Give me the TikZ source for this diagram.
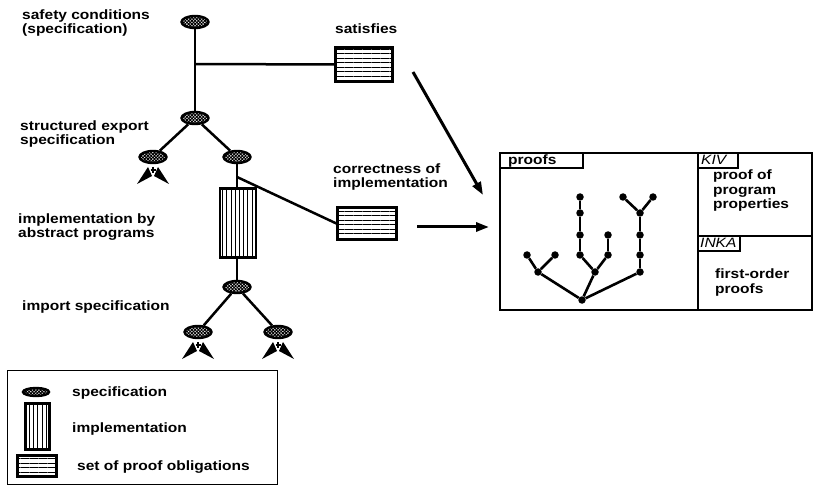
\documentclass[tikz,border=0pt]{standalone}
\usepackage{fontspec}
\newfontfamily\lab{Liberation Sans}[FakeStretch=1.15]
\usetikzlibrary{shapes.geometric,patterns.meta,arrows.meta}
\tikzset{
  lbl/.style={font=\lab\bfseries\fontsize{13.5}{14.5}\selectfont, align=left, inner sep=0pt, anchor=base west},
  tablbl/.style={font=\lab\itshape\fontsize{13.5}{14.5}\selectfont, inner sep=0pt, anchor=base west},
  spec/.style={ellipse, draw, line width=2.4pt, minimum width=27pt, minimum height=12pt, inner sep=0pt,
    pattern={Hatch[angle=45,distance=2.3pt,line width=1pt]}},
  impl/.style={rectangle, draw, line width=2.2pt, inner sep=0pt,
    pattern={Lines[angle=90,distance=4.2pt,line width=1pt]}},
  obl/.style={rectangle, draw, line width=2.2pt, inner sep=0pt,
    pattern={Lines[angle=0,distance=4.5pt,line width=1pt]}},
  edge/.style={line width=2.5pt},
  bigarrow/.style={line width=3pt, -{Triangle[length=13pt,width=9pt]}},
  dot/.style={circle, fill, inner sep=0pt, minimum size=7.5pt},
  treeedge/.style={line width=2.6pt},
  imp/.pic={
    \fill (-16,27) -- (-5,10) -- (-1,19) -- cycle;
    \fill (16,27) -- (5,10) -- (1,19) -- cycle;
    \draw[line width=1.2pt] (-2.5,13) -- (2.5,13) (0,10) -- (0,16);
  }
}
\begin{document}
\begin{tikzpicture}[x=1pt,y=-1pt]
\useasboundingbox (0,0) rectangle (816,486);

% left structure
\node[spec] (s1) at (195,22) {};
\node[spec] (s2) at (195,118) {};
\node[spec] (s3) at (153,157) {};
\node[spec] (s4) at (237,157) {};
\node[impl, minimum width=36pt, minimum height=69pt] (im) at (238,223) {};
\node[spec] (s5) at (237,287) {};
\node[spec] (s6) at (198,332) {};
\node[spec] (s7) at (278,332) {};
\node[obl, minimum width=57pt, minimum height=34pt] (sat) at (364,64.5) {};
\node[obl, minimum width=59pt, minimum height=32pt] (cor) at (367,223.5) {};

\coordinate (j1) at (195,64);
\coordinate (j2) at (237,177);
\draw[edge] (s1) -- (s2);
\draw[edge] (j1) -- (sat.west);
\draw[edge] (s2) -- (s3);
\draw[edge] (s2) -- (s4);
\draw[edge] (s4) -- (s4 |- im.north);
\draw[edge] (j2) -- (cor.west);
\draw[edge] (s5 |- im.south) -- (s5);
\draw[edge] (s5) -- (s6);
\draw[edge] (s5) -- (s7);

\pic at (s3) {imp};
\pic at (s6) {imp};
\pic at (s7) {imp};

% labels (anchor = baseline of the last line)
\node[lbl] (tsafe) at (22,34) {safety conditions\\(specification)};
\node[lbl] (tsat) at (335,34) {satisfies};
\node[lbl] (tstruct) at (20,145) {structured export\\specification};
\node[lbl] (timpl) at (18,238) {implementation by\\abstract programs};
\node[lbl] (timport) at (22,310) {import specification};
\node[lbl] (tcorr) at (333,188) {correctness of\\implementation};

% big arrows
\coordinate (a1s) at (413,72);
\coordinate (a1e) at (483,195);
\coordinate (a2s) at (417,227);
\coordinate (a2e) at (489,227);
\draw[bigarrow] (a1s) -- (a1e);
\draw[bigarrow] (a2s) -- (a2e);

% right panel
\node[draw, line width=2pt, minimum width=312pt, minimum height=157pt, inner sep=0pt] (panel) at (656,231.5) {};
\draw[line width=2.6pt] (698,153) -- (698,310);
\draw[line width=2.4pt] (698,236) -- (812,236);
\draw[line width=1.6pt] (500,168) -- (583,168) -- (583,153);
\draw[line width=1.6pt] (698,168) -- (738,168) -- (738,153);
\draw[line width=1.6pt] (698,251) -- (740,251) -- (740,236);
\node[lbl] (tproofs) at (508,165) {proofs};
\node[tablbl] (tkiv) at (701,165) {KIV};
\node[tablbl] (tinka) at (700,248) {INKA};
\node[lbl] (tppp) at (713,209) {proof of\\program\\properties};
\node[lbl] (tfo) at (715,293) {first-order\\proofs};

% proof tree
\node[dot] (R) at (582,300) {};
\node[dot] (A) at (538,272) {};
\node[dot] (A1) at (527,255) {};
\node[dot] (A2) at (555,255) {};
\node[dot] (B) at (595,272) {};
\node[dot] (B1) at (580,255) {};
\node[dot] (B1a) at (580,235) {};
\node[dot] (B1b) at (580,213) {};
\node[dot] (B1c) at (580,197) {};
\node[dot] (B2) at (608,255) {};
\node[dot] (B2a) at (608,235) {};
\node[dot] (C) at (640,272) {};
\node[dot] (Ca) at (640,255) {};
\node[dot] (Cb) at (640,235) {};
\node[dot] (Cc) at (640,213) {};
\node[dot] (Cl) at (623,197) {};
\node[dot] (Cr) at (653,197) {};
\draw[treeedge] (R) -- (A);
\draw[treeedge] (R) -- (B);
\draw[treeedge] (R) -- (C);
\draw[treeedge] (A) -- (A1);
\draw[treeedge] (A) -- (A2);
\draw[treeedge] (B) -- (B1);
\draw[treeedge] (B) -- (B2);
\draw[treeedge] (B1) -- (B1a) -- (B1b) -- (B1c);
\draw[treeedge] (B2) -- (B2a);
\draw[treeedge] (C) -- (Ca) -- (Cb) -- (Cc);
\draw[treeedge] (Cc) -- (Cl);
\draw[treeedge] (Cc) -- (Cr);

% legend
\node[draw, line width=1pt, minimum width=270pt, minimum height=114pt, inner sep=0pt] (leg) at (142,427) {};
\node[spec, minimum width=26pt, minimum height=8pt] (ls) at (36,392) {};
\node[impl, minimum width=24pt, minimum height=46pt] (li) at (37.5,426.5) {};
\node[obl, minimum width=39pt, minimum height=21pt] (lo) at (37,466) {};
\node[lbl] (tls) at (72,396) {specification};
\node[lbl] (tli) at (72,432) {implementation};
\node[lbl] (tlo) at (77,470) {set of proof obligations};
\end{tikzpicture}
\end{document}
